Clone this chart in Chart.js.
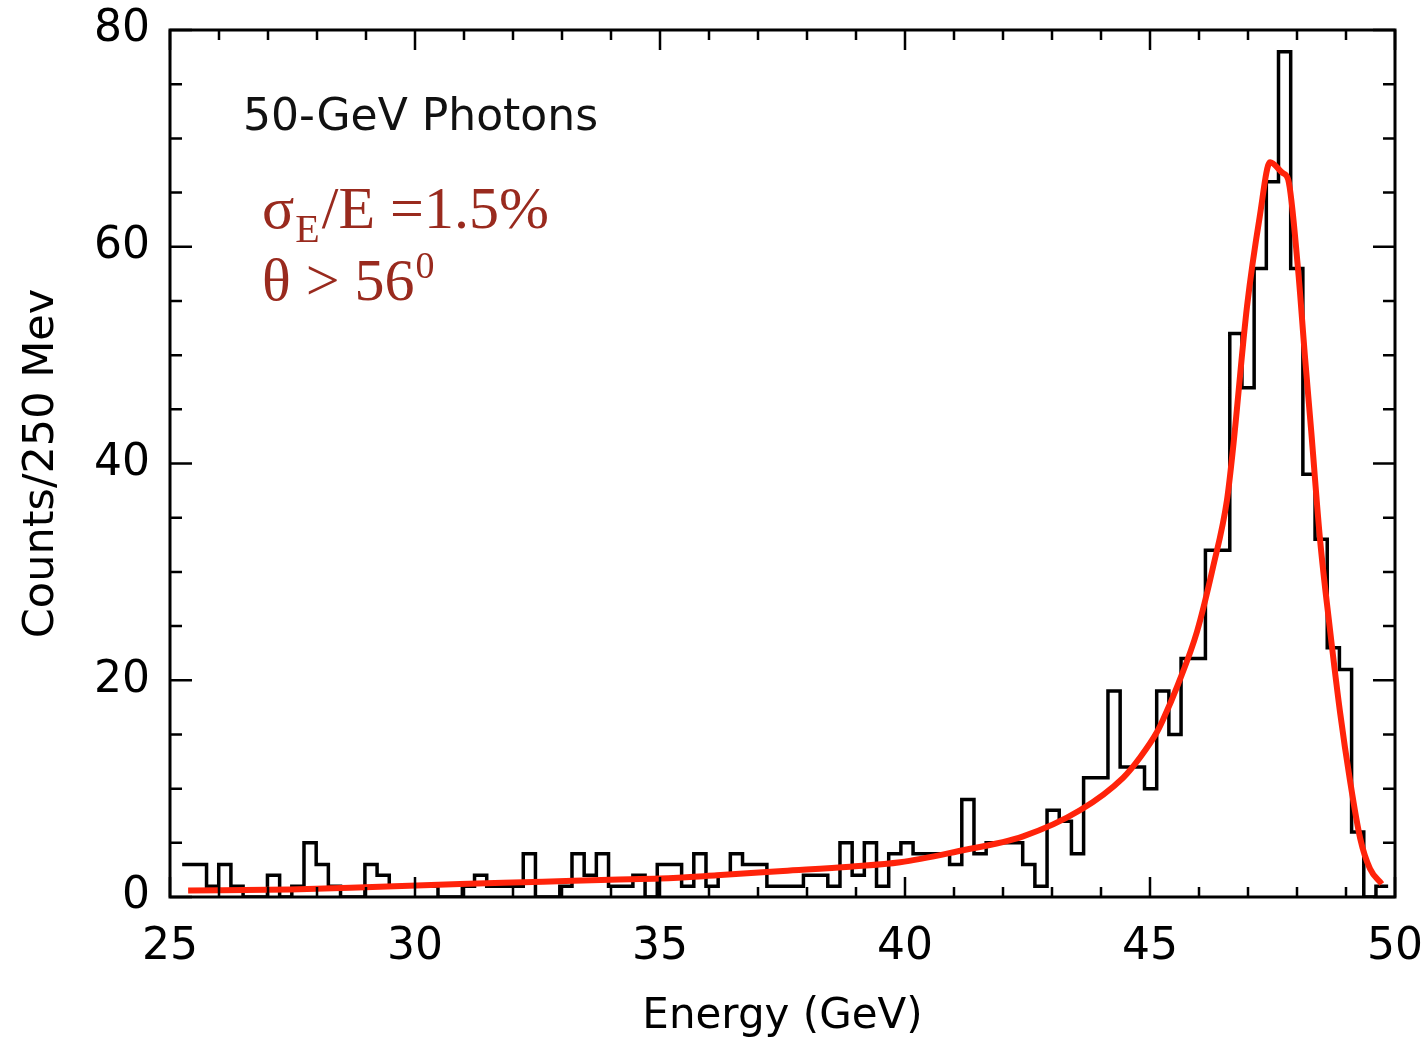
<!DOCTYPE html>
<html>
<head>
<meta charset="utf-8">
<script src="https://cdn.jsdelivr.net/npm/chart.js@4.4.0/dist/chart.umd.min.js"></script>
<style>
  html, body { margin: 0; padding: 0; background: #fff; }
  #wrap { width: 1427px; height: 1045px; position: relative; }
</style>
</head>
<body>
<div id="wrap"><canvas id="canvas1"></canvas></div>
<script>
// histogram bins (as drawn, one bin = 250 MeV nominal)
const binStart = 25.2486;
const binWidth = 0.2486;
const counts = [
    3, 3, 1, 3, 1, 0, 0, 2, 0, 1,
    5, 3, 1, 0, 0, 3, 2, 1, 1, 1,
    1, 0, 0, 1, 2, 1, 1, 1, 4, 0,
    0, 1, 4, 2, 4, 1, 1, 2, 0, 3,
    3, 1, 4, 1, 2, 4, 3, 3, 1, 1,
    1, 2, 2, 1, 5, 2, 5, 1, 4, 5,
    4, 4, 4, 3, 9, 4, 5, 5, 5, 3,
    1, 8, 7, 4, 11, 11, 19, 12, 12, 10,
    19, 15, 22, 22, 32, 32, 52, 47, 58, 66,
    78, 58, 39, 33, 23, 21, 6, 0, 1
];

// fit curve
const fitE = [25.37, 27.45, 28.98, 30.92, 32.61, 33.98, 35.0, 36.16, 37.51, 38.88,
    39.9, 41.06, 42.41, 43.57, 44.45, 44.8, 45.14, 45.27, 45.57, 45.96,
    46.29, 46.57, 46.69, 46.98, 47.24, 47.45, 47.71, 47.82, 48.02, 48.16,
    48.29, 48.47, 48.67, 48.88, 49.08, 49.29, 49.49, 49.73];
const fitCounts = [0.6, 0.7, 0.9, 1.2, 1.4, 1.6, 1.7, 2.0, 2.4, 2.8,
    3.2, 4.2, 5.6, 8.0, 11.0, 12.9, 15.2, 16.4, 19.6, 24.5,
    30.5, 36.6, 41.2, 54.5, 62.8, 67.8, 66.8, 66.2, 58.0, 50,
    43, 33, 24.8, 17, 10.8, 5.4, 2.6, 1.2];

const xTicks = [25, 30, 35, 40, 45, 50];
const yTicks = [0, 20, 40, 60, 80];
const xMinorStep = 1;
const yMinorStep = 5;

let histPoints = counts.map((c, i) => ({x: binStart + i * binWidth, y: c}));
histPoints.push({x: binStart + counts.length * binWidth, y: counts[counts.length - 1]});

let fitPoints = fitE.map((e, i) => ({x: e, y: fitCounts[i]}));

// box round the plot with inward ticks on all four sides
const frameTicks = {
    id: 'frameTicks',
    afterDraw(chart) {
        const ctx = chart.ctx;
        const a = chart.chartArea;
        const xs = chart.scales.x, ys = chart.scales.y;
        ctx.save();
        ctx.strokeStyle = '#000';
        ctx.lineWidth = 2.5;
        for (let v = xTicks[0]; v <= xTicks[xTicks.length - 1]; v += xMinorStep) {
            let px = xs.getPixelForValue(v);
            let len = xTicks.includes(v) ? 20 : 10;
            ctx.beginPath();
            ctx.moveTo(px, a.bottom); ctx.lineTo(px, a.bottom - len);
            ctx.moveTo(px, a.top); ctx.lineTo(px, a.top + len);
            ctx.stroke();
        }
        for (let v = yTicks[0]; v <= yTicks[yTicks.length - 1]; v += yMinorStep) {
            let py = ys.getPixelForValue(v);
            let len = yTicks.includes(v) ? 22 : 12;
            ctx.beginPath();
            ctx.moveTo(a.left, py); ctx.lineTo(a.left + len, py);
            ctx.moveTo(a.right, py); ctx.lineTo(a.right - len, py);
            ctx.stroke();
        }
        ctx.lineWidth = 3;
        ctx.strokeRect(a.left, a.top, a.right - a.left, a.bottom - a.top);
        ctx.restore();
    }
};

const notes = {
    id: 'notes',
    afterDraw(chart) {
        const ctx = chart.ctx;
        const a = chart.chartArea;
        ctx.save();
        ctx.textBaseline = 'alphabetic';
        ctx.fillStyle = '#111';
        ctx.font = '44px "DejaVu Sans"';
        ctx.fillText('50-GeV Photons', a.left + 73, a.top + 100);

        ctx.fillStyle = '#992a1e';
        let x = a.left + 92;
        let y = a.top + 198;
        ctx.font = '60px "Liberation Serif"';
        ctx.fillText('\u03c3', x, y);
        x += ctx.measureText('\u03c3').width + 1;
        ctx.font = '40px "Liberation Serif"';
        ctx.fillText('E', x, y + 14);
        x += ctx.measureText('E').width + 2;
        ctx.font = '60px "Liberation Serif"';
        ctx.fillText('/E =1.5%', x, y);

        x = a.left + 92;
        y = a.top + 270;
        ctx.fillText('\u03b8 > 56', x, y);
        x += ctx.measureText('\u03b8 > 56').width + 1;
        ctx.font = '38px "Liberation Serif"';
        ctx.fillText('0', x, y - 22);
        ctx.restore();
    }
};

Chart.defaults.font.family = '"DejaVu Sans"';
Chart.defaults.color = '#000';

const ctx = document.getElementById('canvas1');
const chart1 = new Chart(ctx, {
    type: 'line',
    data: {
        datasets: [{
            label: 'fit',
            data: fitPoints,
            borderColor: 'rgb(255, 35, 10)',
            borderWidth: 6,
            pointRadius: 0,
            cubicInterpolationMode: 'monotone',
            order: 0
        }, {
            label: 'counts',
            data: histPoints,
            stepped: true,
            borderColor: '#000',
            borderWidth: 3.5,
            borderJoinStyle: 'miter',
            pointRadius: 0,
            order: 1
        }]
    },
    options: {
        responsive: true,
        maintainAspectRatio: false,
        animation: false,
        devicePixelRatio: 1,
        layout: { padding: { top: 30, right: 32, left: 0, bottom: 0 } },
        plugins: { legend: { display: false }, tooltip: { enabled: false } },
        scales: {
            x: {
                type: 'linear',
                min: 25, max: 50,
                afterBuildTicks: s => { s.ticks = xTicks.map(v => ({value: v})); },
                afterFit: s => { s.height = 148; s.paddingLeft = 0; s.paddingRight = 0; },
                grid: { display: false, drawTicks: false },
                border: { display: false },
                ticks: { padding: 24, font: { size: 44 }, color: '#000' },
                title: { display: true, text: 'Energy (GeV)', font: { size: 42 }, color: '#000', padding: { bottom: 3 } }
            },
            y: {
                type: 'linear',
                min: 0, max: 80,
                afterBuildTicks: s => { s.ticks = yTicks.map(v => ({value: v})); },
                afterFit: s => { s.width = 170; s.paddingTop = 0; s.paddingBottom = 0; },
                grid: { display: false, drawTicks: false },
                border: { display: false },
                ticks: { padding: 20, font: { size: 44 }, color: '#000' },
                title: { display: true, text: 'Counts/250 Mev', font: { size: 43 }, color: '#000', padding: { top: 16 } }
            }
        }
    },
    plugins: [frameTicks, notes]
});
</script>
</body>
</html>
